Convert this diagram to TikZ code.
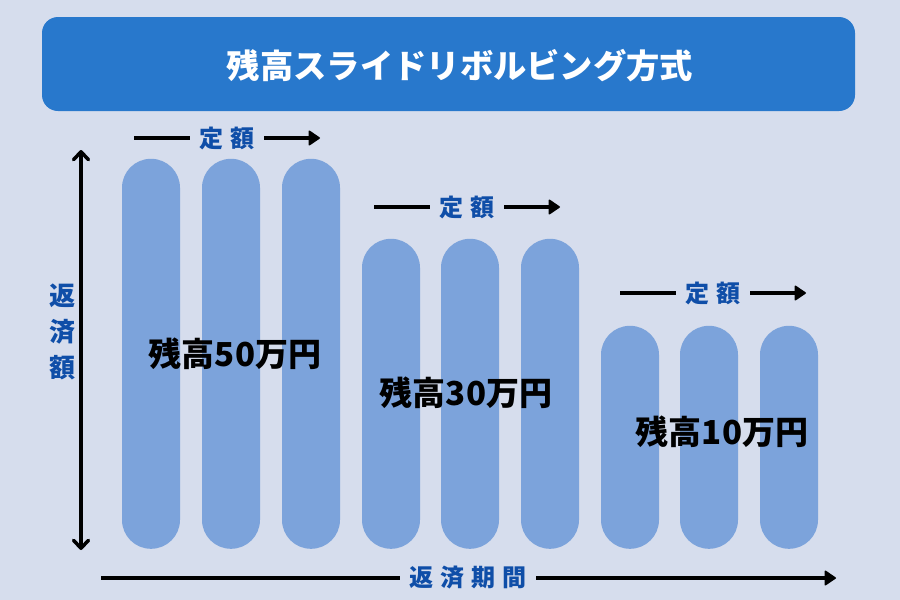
\documentclass[tikz,border=0pt]{standalone}
\usepackage{fontspec}
\newfontfamily\cjk{Noto Sans CJK JP}
\usetikzlibrary{arrows.meta,
	positioning
}
\definecolor{bgcol}{HTML}{D6DDED}
\definecolor{headcol}{HTML}{2878CC}
\definecolor{barcol}{HTML}{7CA3DB}
\definecolor{labcol}{HTML}{0F4EA8}
\tikzset{
	pill/.style={rounded corners=28.9pt, fill=barcol, minimum width=58pt, anchor=south, inner sep=0pt},
	axislabel/.style={text=labcol, font=\cjk\bfseries\fontsize{26pt}{36pt}\selectfont, inner sep=0pt, align=center},
	amount/.style={text=labcol, font=\cjk\bfseries\fontsize{24pt}{24pt}\selectfont, inner sep=0pt, inner xsep=9pt},
	balance/.style={text=black, font=\cjk\bfseries\fontsize{33pt}{33pt}\selectfont, inner sep=0pt},
	myarrow/.style={line width=3.5pt, -{Triangle[round,length=12pt,width=16pt,line width=1.5pt]}, black},
	myline/.style={line width=3.5pt, black},
	bothway/.style={line width=3.5pt, black, {Straight Barb[round,length=8pt,width=15pt]}-{Straight Barb[round,length=8pt,width=15pt]}},
}

\begin{document}
\begin{tikzpicture}[x=1pt,y=-1pt]
\useasboundingbox (0,0) rectangle (900,600);
\fill[bgcol] (0,0) rectangle (900,600);

% header

\node[rounded corners=16pt, fill=headcol, minimum width=813pt, minimum height=94pt, inner sep=0pt] (head) at (448.5,64) {};
\node[text=white, font=\cjk\bfseries\fontsize{33.3pt}{33pt}\selectfont, inner sep=0pt] (title) at (460,66) {残高スライドリボルビング方式};

% bars

\foreach \name/\x/\h in {a1/151/390,a2/231/390,a3/311/390,b1/391/310,b2/470/310,b3/550/310,c1/630/223,c2/709/223,c3/789/223}{
	\node[pill, minimum height=\h pt] (\name) at (\x,549) {};
}

% balances

\node[balance] (bal1) at (235,354) {残高50万円};
\node[balance] (bal2) at (466,393) {残高30万円};
\node[balance] (bal3) at (722,432) {残高10万円};

% fixed amount

\node[amount] (fix1) at (227,138) {定\hspace{8pt}額};
\node[amount] (fix2) at (467,207) {定\hspace{8pt}額};
\node[amount] (fix3) at (713,293) {定\hspace{8pt}額};

\coordinate (fix1l) at (134,138);
\coordinate (fix1r) at (320,138);
\coordinate (fix2l) at (374,207);
\coordinate (fix2r) at (560,207);
\coordinate (fix3l) at (620,293);
\coordinate (fix3r) at (806,293);

\draw[myline] (fix1l) -- (fix1.west);
\draw[myarrow] (fix1.east) -- (fix1r);
\draw[myline] (fix2l) -- (fix2.west);
\draw[myarrow] (fix2.east) -- (fix2r);
\draw[myline] (fix3l) -- (fix3.west);
\draw[myarrow] (fix3.east) -- (fix3r);

% axes

\node[axislabel] (yax) at (62.5,332) {返\\済\\額};
\node[amount] (xax) at (468,578) {返\hspace{7.3pt}済\hspace{7.3pt}期\hspace{7.3pt}間};

\coordinate (ytop) at (81,150);
\coordinate (ybot) at (81,550);
\coordinate (xl) at (101,578);
\coordinate (xr) at (836,578);

\draw[bothway] (ytop) -- (ybot);
\draw[myline] (xl) -- (xax.west);
\draw[myarrow] (xax.east) -- (xr);

\end{tikzpicture}
\end{document}
